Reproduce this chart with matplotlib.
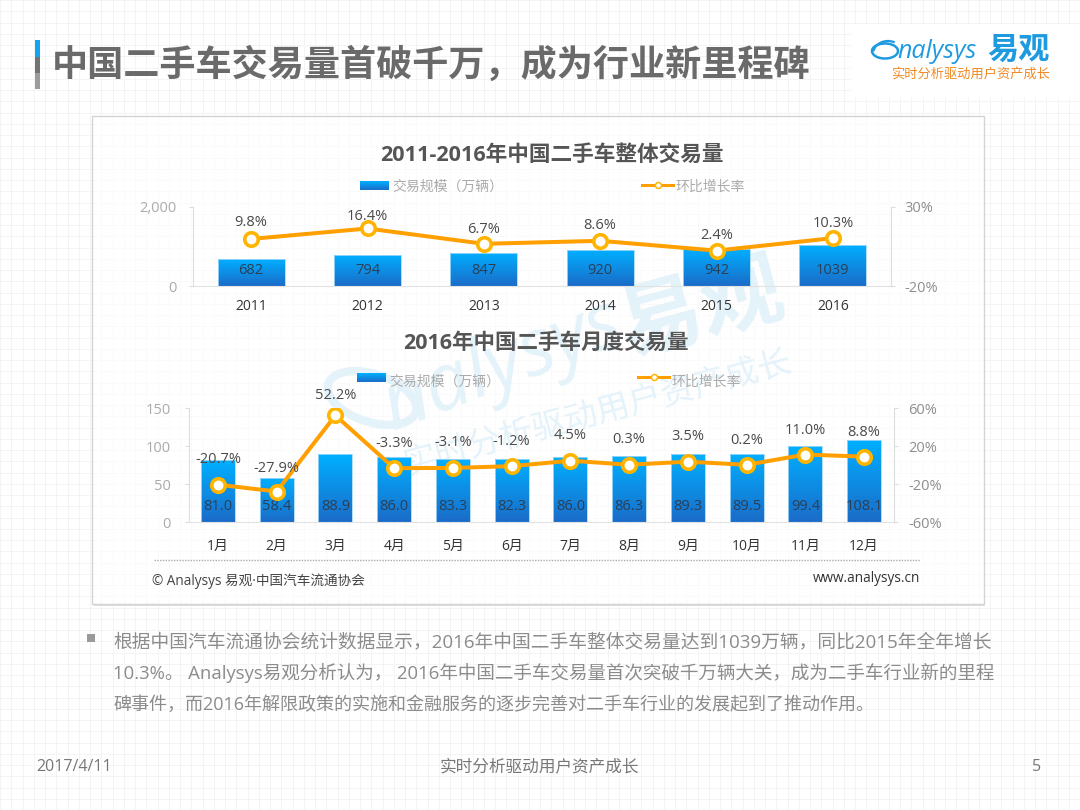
"""Analysys slide: China used-car transaction volume, yearly and monthly combo charts."""

import matplotlib

matplotlib.use("Agg")
import matplotlib.pyplot as plt
import numpy as np
from matplotlib.colors import LinearSegmentedColormap
from matplotlib.patches import Arc, Ellipse, Rectangle

plt.rcParams["font.family"] = ["Open Sans", "Noto Sans CJK SC", "DejaVu Sans"]

W, H = 1080, 810

YEARS = ["2011", "2012", "2013", "2014", "2015", "2016"]
YEAR_VOLUME = [682, 794, 847, 920, 942, 1039]
YEAR_GROWTH = [9.8, 16.4, 6.7, 8.6, 2.4, 10.3]

MONTHS = ["1月", "2月", "3月", "4月", "5月", "6月", "7月", "8月", "9月", "10月", "11月", "12月"]
MONTH_VOLUME = [81.0, 58.4, 88.9, 86.0, 83.3, 82.3, 86.0, 86.3, 89.3, 89.5, 99.4, 108.1]
MONTH_GROWTH = [-20.7, -27.9, 52.2, -3.3, -3.1, -1.2, 4.5, 0.3, 3.5, 0.2, 11.0, 8.8]

TITLE = "中国二手车交易量首破千万，成为行业新里程碑"
BODY = [
    "根据中国汽车流通协会统计数据显示，2016年中国二手车整体交易量达到1039万辆，同比2015年全年增长",
    "10.3%。 Analysys易观分析认为， 2016年中国二手车交易量首次突破千万辆大关，成为二手车行业新的里程",
    "碑事件，而2016年解限政策的实施和金融服务的逐步完善对二手车行业的发展起到了推动作用。",
]
SLOGAN = "实时分析驱动用户资产成长"

BAR_CMAP = LinearSegmentedColormap.from_list("bar", ["#1A6CC8", "#00AEFF"])
LINE_C = "#FF9F00"
MARK_C = "#FFB400"
PX = 0.72  # points per pixel at dpi 100


def axes_px(fig, left, top, right, bottom):
    return fig.add_axes([left / W, 1 - bottom / H, (right - left) / W, (bottom - top) / H])


def gradient_fill(ax, x0, x1, y0, y1, zorder=2):
    # pcolormesh rather than imshow, imshow left a band at the top of some bars
    edges = np.linspace(y0, y1, 49)
    shade = np.linspace(0, 1, 48).reshape(-1, 1)
    ax.pcolormesh([x0, x1], edges, shade, cmap=BAR_CMAP, vmin=0, vmax=1, zorder=zorder,
                  linewidth=0, antialiased=False)


def gradient_bars(ax, x, values, width):
    bars = ax.bar(x, values, width, color="none", edgecolor="#A5D8F8", linewidth=0.6, zorder=3)
    for bar in bars:
        gradient_fill(ax, bar.get_x(), bar.get_x() + bar.get_width(), 0, bar.get_height())


def combo(fig, rect, labels, volume, growth, vol_ticks, vol_fmt, pct_ticks, bar_w, fmt,
          value_off, pct_offs, pads):
    ax = axes_px(fig, *rect)
    ax.set_zorder(3)
    ax.patch.set_visible(False)
    x = np.arange(len(labels))
    gradient_bars(ax, x, volume, bar_w)
    ax.set_xlim(-0.5, len(labels) - 0.5)
    ax.set_ylim(vol_ticks[0], vol_ticks[-1])
    ax.set_xticks(x, labels)
    ax.set_yticks(vol_ticks, [vol_fmt(v) for v in vol_ticks])
    ax.tick_params(axis="x", length=0, pad=pads[0], labelsize=10, labelcolor="#333333")
    ax.tick_params(axis="y", length=4 * PX, width=0.8, color="#DDDDDD", pad=pads[1],
                   labelsize=10.5, labelcolor="#ABABAB")
    for name in ["top", "right"]:
        ax.spines[name].set_visible(False)
    ax.spines["left"].set_color("#DDDDDD")
    ax.spines["bottom"].set_color("#E2E2E2")
    for xi, v in zip(x, volume):
        ax.annotate(fmt(v), (xi, 0), xytext=(0, value_off * PX), textcoords="offset points",
                    ha="center", va="center", fontsize=10.5, color="#2B3F55", zorder=5)

    ax2 = ax.twinx()
    ax2.set_zorder(4)
    ax2.patch.set_visible(False)
    ax2.plot(x, growth, color=LINE_C, lw=4 * PX, solid_joinstyle="round", zorder=4)
    ax2.plot(x, growth, ls="none", marker="o", ms=13.5 * PX, mfc="white", mec=MARK_C,
             mew=3.6 * PX, zorder=5)
    ax2.set_ylim(pct_ticks[0], pct_ticks[-1])
    ax2.set_yticks(pct_ticks, [f"{p}%" for p in pct_ticks])
    ax2.tick_params(axis="y", length=4 * PX, width=0.8, color="#DDDDDD", pad=pads[2],
                    labelsize=10.5, labelcolor="#8E8E8E")
    for name in ["top", "left", "bottom"]:
        ax2.spines[name].set_visible(False)
    ax2.spines["right"].set_color("#DDDDDD")
    for xi, g, off in zip(x, growth, pct_offs):
        ax2.annotate(f"{g:.1f}%", (xi, g), xytext=(0, off * PX), textcoords="offset points",
                     ha="center", va="center", fontsize=10.5, color="#4A4A4A", zorder=6)
    return ax, ax2


def legend(bg, sx, sy, tx, ty, lx, ly, t2x):
    # y axis of bg runs downwards, so the dark end goes at the larger y
    gradient_fill(bg, sx, sx + 29, sy + 9, sy, zorder=4)
    bg.text(tx, ty, "交易规模（万辆）", fontsize=10, color="#ABABAB", va="center", zorder=5)
    bg.plot([lx, lx + 31], [ly, ly], color=LINE_C, lw=3 * PX, zorder=4)
    bg.plot([lx + 16], [ly], marker="o", ms=6 * PX, mfc="white", mec=MARK_C, mew=1.5 * PX, zorder=5)
    bg.text(t2x, ty, "环比增长率", fontsize=10, color="#ABABAB", va="center", zorder=5)


def draw_background(bg):
    # sheet grid
    for gx in np.arange(0, W, 11.25):
        bg.axvline(gx, color="#F4F4F4", lw=0.7, zorder=0)
    for gy in np.arange(0, H, 11.25):
        bg.axhline(gy, color="#F4F4F4", lw=0.7, zorder=0)
    # chart panel with soft shadow edge
    bg.add_patch(Rectangle((94, 118), 891, 488, fc="#DEDEDE", ec="none", zorder=1))
    bg.add_patch(Rectangle((92, 116), 892, 488, fc="white", alpha=1, ec="none", zorder=1))
    for gx in np.arange(101.25, 984, 11.25):
        bg.plot([gx, gx], [117, 603], color="#FAFAFA", lw=0.7, zorder=1)
    for gy in np.arange(123.75, 604, 11.25):
        bg.plot([93, 983], [gy, gy], color="#FAFAFA", lw=0.7, zorder=1)
    bg.add_patch(Rectangle((92, 116), 892, 488, fc="none", ec="#D4D4D4", lw=1, zorder=1))


def draw_watermark(bg):
    wm = "#E4F2FA"
    bg.add_patch(Ellipse((372, 398), 92, 48, angle=18, fc="none", ec=wm, lw=6, zorder=2))
    bg.text(502, 366, "nalysys", fontsize=57, style="italic", color=wm, rotation=21,
            ha="center", va="center", family=["Open Sans"], zorder=2)
    bg.text(702, 312, "易观", fontsize=60, weight="bold", color=wm, rotation=15,
            ha="center", va="center", zorder=2)
    bg.text(598, 414, SLOGAN, fontsize=24, color=wm, rotation=15,
            ha="center", va="center", zorder=2)


def draw_header(bg):
    bg.add_patch(Rectangle((35, 40), 5, 17, fc="#10A5EE", ec="none", zorder=5))
    bg.add_patch(Rectangle((35, 57), 5, 16, fc="#737373", ec="none", zorder=5))
    bg.add_patch(Rectangle((35, 73), 5, 16, fc="#9C9C9C", ec="none", zorder=5))
    bg.text(52, 67, TITLE, fontsize=26, weight="bold", color="#6A6A6A", va="center", zorder=5)
    # logo
    blue = "#1E9AE0"
    bg.add_patch(Rectangle((851, 25), 229, 72, fc="white", ec="none", zorder=3))
    bg.add_patch(Arc((885, 51), 26, 15, angle=0, theta1=-30, theta2=330, ec=blue, lw=1.8, zorder=5))
    bg.add_patch(Arc((888, 54), 30, 26, angle=0, theta1=190, theta2=300, ec=blue, lw=1.6, zorder=5))
    bg.text(897, 52, "nalysys", fontsize=18, style="italic", color=blue, va="center",
            family=["Open Sans"], zorder=5)
    bg.text(987, 51, "易观", fontsize=22.5, weight="bold", color=blue, va="center", zorder=5)
    bg.text(891, 74, SLOGAN, fontsize=9.5, color="#F08A24", va="center", zorder=5)


def draw_footer(bg):
    bg.plot([154, 920], [560, 560], color="#AAAAAA", lw=1, ls=(0, (1, 1)), zorder=4)
    bg.text(152, 581, "© Analysys 易观·中国汽车流通协会", fontsize=9.8, color="#444444", va="center", zorder=5)
    bg.text(920, 579, "www.analysys.cn", fontsize=9.8, color="#333333", ha="right", va="center", zorder=5)

    bg.add_patch(Rectangle((87, 634), 8, 8, fc="#9A9A9A", ec="none", zorder=5))
    for line, y, size in zip(BODY, [642, 673, 705], [13.48, 13.35, 13.0]):
        bg.text(113, y, line, fontsize=size, color="#8C8C8C", va="center", zorder=5)

    bg.text(36, 767, "2017/4/11", fontsize=11.5, color="#777777", va="center", zorder=5)
    bg.text(540, 767, SLOGAN, fontsize=12, color="#777777", ha="center", va="center", zorder=5)
    bg.text(1037, 767, "5", fontsize=11.5, color="#777777", ha="center", va="center", zorder=5)


fig = plt.figure(figsize=(W / 100, H / 100), dpi=100, facecolor="white")

bg = fig.add_axes([0, 0, 1, 1])
bg.set_axis_off()
draw_background(bg)
draw_watermark(bg)
draw_header(bg)
draw_footer(bg)
bg.text(552, 155, "2011-2016年中国二手车整体交易量", fontsize=15.6, weight="bold", color="#555555",
        ha="center", va="center", zorder=5)
bg.text(546, 343, "2016年中国二手车月度交易量", fontsize=15.5, weight="bold", color="#555555",
        ha="center", va="center", zorder=5)
legend(bg, 360, 181, 392, 187, 642, 185, 675)
legend(bg, 357, 373, 389, 382, 638, 377, 671)
bg.set_xlim(0, W)
bg.set_ylim(H, 0)

combo(fig, (193, 207, 891, 286), YEARS, YEAR_VOLUME, YEAR_GROWTH, [0, 2000],
      lambda v: f"{v:,}", [-20, 30], 0.575, lambda v: f"{v}", 16,
      [16, 12, 14, 15, 15, 15], (9, 9, 7))
combo(fig, (188.5, 408, 893.5, 522), MONTHS, MONTH_VOLUME, MONTH_GROWTH, [0, 50, 100, 150],
      lambda v: f"{v}", [-60, -20, 20, 60], 0.58, lambda v: f"{v:.1f}", 16,
      [25, 23, 20, 25, 25, 25, 25, 25, 25, 24, 24, 24], (12, 10, 8))

fig.savefig("out.png", dpi=100)
plt.close(fig)
